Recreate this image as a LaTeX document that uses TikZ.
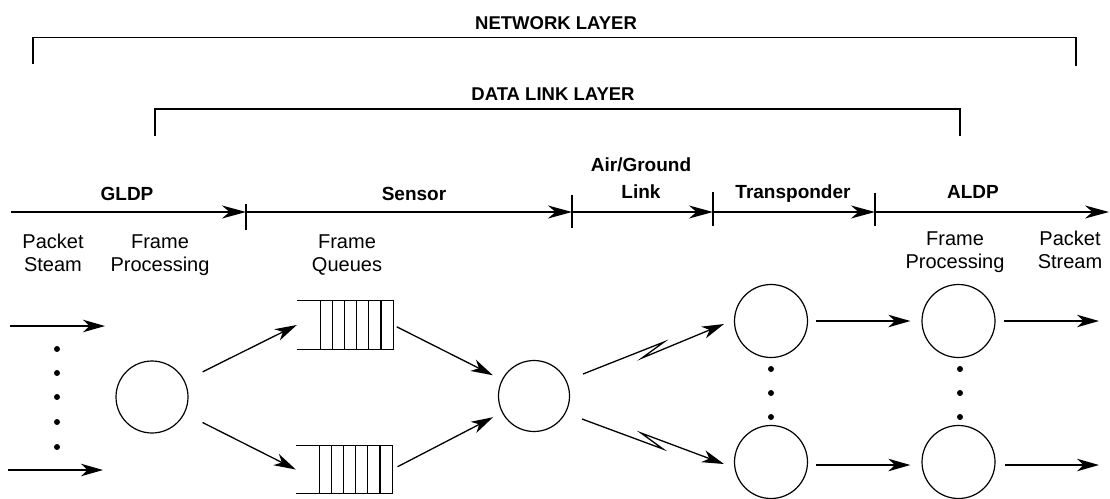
\documentclass[tikz,border=0pt]{standalone}
\usepackage{fontspec}
\setmainfont{Liberation Sans}
\usetikzlibrary{arrows.meta,calc}
\begin{document}
\begin{tikzpicture}[x=1pt,y=-1pt,
  arr/.style={line width=1.3pt,-{Stealth[length=22pt,width=12.5pt,inset=6.5pt]}},
  tarr/.style={line width=1.6pt,-{Stealth[length=24pt,width=13pt,inset=7.5pt]}},
  tick/.style={line width=2.2pt},
  brk/.style={line width=1.2pt},
  circ/.style={circle,draw,line width=1.2pt,minimum size=72pt,inner sep=0pt},
  qbox/.style={rectangle,inner sep=0pt,minimum width=96pt,minimum height=48pt},
  qline/.style={line width=1.1pt},
  lab/.style={anchor=base,inner sep=0pt,font=\fontsize{20}{24}\selectfont},
  blab/.style={anchor=base,inner sep=0pt,font=\fontsize{19}{23}\selectfont\bfseries},
  big/.style={anchor=base,inner sep=0pt,font=\fontsize{18.5}{22}\selectfont\bfseries},
  dot/.style={circle,fill,inner sep=0pt,minimum size=6pt}
]
\useasboundingbox (0,0) rectangle (1110,498);

% layer brackets
\node[big] (netl) at (556,29) {NETWORK LAYER};
\draw[brk] (33,64) -- (33,37.5) -- (1076,37.5) -- (1076,66);
\node[big] (dll) at (553,100) {DATA LINK LAYER};
\draw[brk] (155,136) -- (155,109) -- (960,109) -- (960,136);

% timeline
\coordinate (T0) at (11,212);
\coordinate (T1) at (246,212);
\coordinate (T2) at (572,212);
\coordinate (T3) at (713,212);
\coordinate (T4) at (875,212);
\coordinate (T5) at (1109,212);
\draw[tarr] (T0) -- (T1);
\draw[tarr] (T1) -- (T2);
\draw[tarr] (T2) -- (T3);
\draw[tarr] (T3) -- (T4);
\draw[tarr] (T4) -- (T5);
\draw[tick] ($(T1)+(0,-8)$) -- ($(T1)+(0,18)$);
\draw[tick] ($(T2)+(0,-17)$) -- ($(T2)+(0,16)$);
\draw[tick] ($(T3)+(0,-20)$) -- ($(T3)+(0,14)$);
\draw[tick] ($(T4)+(0,-19)$) -- ($(T4)+(0,14)$);

\node[blab] (gldp) at (127,200) {GLDP};
\node[blab] (sens) at (414,200) {Sensor};
\node[blab] (ag1) at (641,171) {Air/Ground};
\node[blab] (ag2) at (641,198) {Link};
\node[blab] (trp) at (793,198) {Transponder};
\node[blab] (aldp) at (973,198) {ALDP};

% column labels
\node[lab] (ps1) at (53,248) {Packet};
\node[lab] (ps2) at (53,271) {Steam};
\node[lab] (fp1) at (160,248) {Frame};
\node[lab] (fp2) at (160,271) {Processing};
\node[lab] (fq1) at (347,248) {Frame};
\node[lab] (fq2) at (347,271) {Queues};
\node[lab] (rf1) at (955,245) {Frame};
\node[lab] (rf2) at (955,268) {Processing};
\node[lab] (rp1) at (1070,245) {Packet};
\node[lab] (rp2) at (1070,268) {Stream};

% input packet streams
\coordinate (inA1) at (10,326);
\coordinate (inB1) at (105,326);
\coordinate (inA2) at (8,470);
\coordinate (inB2) at (103,470);
\draw[arr] (inA1) -- (inB1);
\draw[arr] (inA2) -- (inB2);
\foreach \y [count=\k] in {349,373,397,422,447}
  \node[dot] (ld\k) at (57,\y) {};

% nodes
\node[circ] (c1) at (152,397) {};
\node[circ,minimum size=71pt] (c2) at (534,396) {};
\node[circ,minimum size=73pt] (t1) at (771,321) {};
\node[circ,minimum size=73pt] (t2) at (771,462) {};
\node[circ,minimum size=73pt] (f1) at (958.5,321) {};
\node[circ,minimum size=73pt] (f2) at (958.5,462) {};

% queues
\node[qbox] (q1) at (345,325) {};
\node[qbox,minimum height=47pt] (q2) at (344,469.5) {};
\foreach \q in {q1,q2}{
  \draw[qline] (\q.north west) -- (\q.north east) -- (\q.south east) -- (\q.south west);
  \foreach \i in {1,...,6}
    \draw[qline] ($(\q.north east)+(-\i*12.17,0)$) -- ($(\q.south east)+(-\i*12.17,0)$);
}

% connectors
\draw[arr,shorten <=20pt] (c1) -- (q1.west);
\draw[arr,shorten <=20pt] (c1) -- (q2.west);
\draw[arr,shorten <=4pt,shorten >=10pt] (q1.east) -- (c2);
\draw[arr,shorten <=6pt,shorten >=10pt] (q2.east) -- (c2);

% radio links (zigzag)
\coordinate (zA1) at (583,374);
\coordinate (zB1) at (664,342);
\coordinate (zC1) at (642,358);
\coordinate (zD1) at (724,324);
\coordinate (zA2) at (582,419);
\coordinate (zB2) at (663,449);
\coordinate (zC2) at (641,433);
\coordinate (zD2) at (724,464);
\draw[arr] (zA1) -- (zB1) -- (zC1) -- (zD1);
\draw[arr] (zA2) -- (zB2) -- (zC2) -- (zD2);

\draw[arr,shorten <=8pt,shorten >=11pt] (t1) -- (f1);
\draw[arr,shorten <=8pt,shorten >=11pt] ([yshift=-3pt]t2.east) -- ([yshift=-3pt]f2.west);
\coordinate (o1) at (1099,321);
\coordinate (o2) at (1099,465);
\draw[arr,shorten <=8pt] (f1) -- (o1);
\draw[arr,shorten <=9pt] (f2.east |- o2) -- (o2);

\foreach \y [count=\k] in {369,393,417}{
  \node[dot] (td\k) at (771,\y) {};
  \node[dot] (fd\k) at (960,\y) {};
}
\end{tikzpicture}
\end{document}
